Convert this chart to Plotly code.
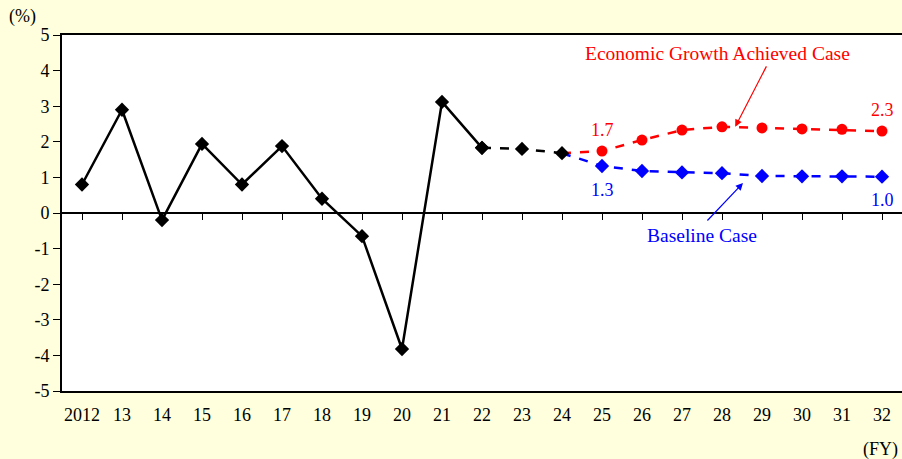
import plotly.graph_objects as go

years = ["2012", "13", "14", "15", "16", "17", "18", "19", "20", "21", "22",
         "23", "24", "25", "26", "27", "28", "29", "30", "31", "32"]
actual = [0.8, 2.9, -0.2, 1.94, 0.8, 1.88, 0.4, -0.65, -3.82, 3.12, 1.83]
bridge = [1.83, 1.8, 1.68]
growth = [1.68, 1.74, 2.05, 2.33, 2.42, 2.39, 2.36, 2.35, 2.3]
baseline = [1.68, 1.32, 1.18, 1.14, 1.12, 1.04, 1.03, 1.03, 1.02]
yticks = [5, 4, 3, 2, 1, 0, -1, -2, -3, -4, -5]

FONT = "Liberation Serif, Times New Roman, serif"
idx = list(range(len(years)))
x_actual = idx[0:11]
x_bridge = idx[10:13]
x_proj = idx[12:21]

fig = go.Figure()
fig.add_trace(go.Scatter(
    x=x_proj, y=growth, mode="lines+markers",
    line=dict(color="#ff0000", width=2.5, dash="dash"),
    marker=dict(symbol="circle", size=11, color="#ff0000",
                opacity=[0] + [1] * (len(growth) - 1)),
    showlegend=False, hoverinfo="skip"))
fig.add_trace(go.Scatter(
    x=x_proj, y=baseline, mode="lines+markers",
    line=dict(color="#0000ff", width=2.5, dash="dash"),
    marker=dict(symbol="diamond", size=11, color="#0000ff",
                opacity=[0] + [1] * (len(baseline) - 1)),
    showlegend=False, hoverinfo="skip"))
fig.add_trace(go.Scatter(
    x=x_bridge, y=bridge, mode="lines+markers",
    line=dict(color="#000000", width=2.5, dash="dash"),
    marker=dict(symbol="diamond", size=11, color="#000000"),
    showlegend=False, hoverinfo="skip"))
fig.add_trace(go.Scatter(
    x=x_actual, y=actual, mode="lines+markers",
    line=dict(color="#000000", width=2.5),
    marker=dict(symbol="diamond", size=11, color="#000000"),
    showlegend=False, hoverinfo="skip"))
fig.add_trace(go.Scatter(x=idx, y=[0] * len(idx), xaxis="x2", mode="lines",
                         line=dict(width=0), showlegend=False, hoverinfo="skip"))

fig.update_layout(
    width=902, height=459,
    margin=dict(l=62, r=0, t=35, b=68),
    paper_bgcolor="#ffffdd", plot_bgcolor="#ffffff",
    font=dict(family=FONT, size=18, color="#000000"),
    xaxis=dict(range=[-0.5, 20.5], tickmode="array", tickvals=idx, ticktext=years,
               showgrid=False, zeroline=False, showline=True, linecolor="#000000",
               linewidth=2, mirror=True, ticks="outside", ticklen=6,
               tickcolor="rgba(0,0,0,0)", tickfont=dict(family=FONT, size=18)),
    xaxis2=dict(range=[-0.5, 20.5], overlaying="x", anchor="free", position=0.5,
                tickmode="array", tickvals=idx, showticklabels=False,
                showgrid=False, zeroline=False, showline=True, linecolor="#000000",
                linewidth=1.5, ticks="outside", ticklen=6, tickcolor="#000000",
                tickwidth=1),
    yaxis=dict(range=[-5, 5], tickmode="array", tickvals=yticks,
               ticktext=[str(v) for v in yticks],
               showgrid=False, zeroline=False, showline=True, linecolor="#000000",
               linewidth=2, ticks="outside", ticklen=7, tickcolor="#000000",
               tickfont=dict(family=FONT, size=18)),
)

annos = [
    # case labels
    dict(x=15.875, y=4.47, text="Economic Growth Achieved Case", showarrow=False,
         xanchor="center", yanchor="middle", font=dict(color="#ff0000", size=19.5)),
    dict(x=15.5, y=-0.62, text="Baseline Case", showarrow=False,
         xanchor="center", yanchor="middle", font=dict(color="#0000ff", size=19.5)),
    # arrows
    dict(x=16.33, y=2.42, ax=32, ay=-62, text="", showarrow=True,
         arrowhead=2, arrowsize=1.2, arrowwidth=1.2, arrowcolor="#ff0000"),
    dict(x=16.525, y=0.843, ax=-37, ay=39, text="", showarrow=True,
         arrowhead=2, arrowsize=1.2, arrowwidth=1.2, arrowcolor="#0000ff"),
    # value labels
    dict(x=13, y=2.33, text=f"{growth[1]:.1f}", showarrow=False,
         font=dict(color="#ff0000", size=18)),
    dict(x=20, y=2.89, text=f"{growth[-1]:.1f}", showarrow=False,
         font=dict(color="#ff0000", size=18)),
    dict(x=13, y=0.65, text=f"{baseline[1]:.1f}", showarrow=False,
         font=dict(color="#0000ff", size=18)),
    dict(x=20, y=0.37, text=f"{baseline[-1]:.1f}", showarrow=False,
         font=dict(color="#0000ff", size=18)),
    # unit labels
    dict(xref="paper", yref="paper", x=-0.0476, y=1.0506, text="(%)",
         xanchor="center", yanchor="middle", showarrow=False, font=dict(size=18)),
    dict(xref="paper", yref="paper", x=0.9976, y=-0.163, text="(FY)",
         xanchor="right", yanchor="middle", showarrow=False, font=dict(size=18)),
]
fig.update_layout(annotations=annos)

fig.write_html("out.html")
